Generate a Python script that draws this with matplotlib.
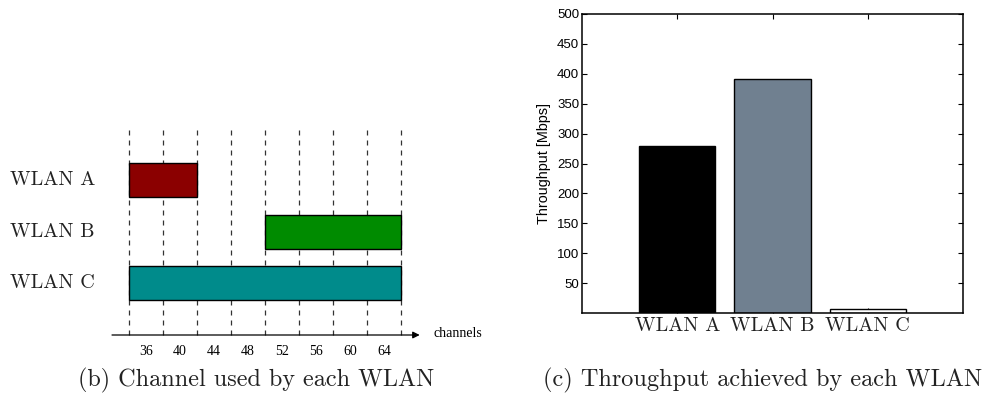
import matplotlib
matplotlib.use("Agg")
import matplotlib.pyplot as plt

# ---- data ----
channels = [36, 40, 44, 48, 52, 56, 60, 64]
wlans = ["WLAN A", "WLAN B", "WLAN C"]
wlan_first_channel = [36, 52, 36]
wlan_last_channel = [40, 64, 64]
wlan_colors = ["#8b0000", "#008b00", "#008b8b"]

throughput = [280, 392, 7]
thr_colors = ["black", "slategray", "white"]
yticks = [50, 100, 150, 200, 250, 300, 350, 400, 450, 500]

CM = "cmr10"
TIMES = "Liberation Serif"
SANS = "Liberation Sans"

W, H = 987, 399
fig = plt.figure(figsize=(W / 100, H / 100), dpi=100)

def rect(l, t, r, b):
    return [l / W, 1 - b / H, (r - l) / W, (b - t) / H]

# ---- left panel ----
axl = fig.add_axes(rect(129, 130, 401, 335))
axl.set_xlim(0, len(channels))
axl.set_ylim(0, 3.97)
axl.axis("off")
for i in range(len(channels) + 1):
    axl.axvline(i, color="#333333", lw=0.9, ls=(0, (4, 4)), zorder=1,
                clip_on=False)
for k, name in enumerate(wlans):
    ypos = len(wlans) - k
    s = channels.index(wlan_first_channel[k])
    e = channels.index(wlan_last_channel[k]) + 1
    axl.barh(ypos, e - s, left=s, height=0.66, color=wlan_colors[k],
             edgecolor="black", lw=1.0, zorder=2, clip_on=False)
    axl.text(-1.0, ypos, name, ha="right", va="center", fontsize=14.5,
             family=CM, color="#222222")
for i, ch in enumerate(channels):
    axl.text(i + 0.5, -0.32, str(ch), ha="center", va="center",
             fontsize=10, family=TIMES)
axl.annotate("", xy=(8.55, 0), xytext=(-0.5, 0),
             arrowprops=dict(arrowstyle="-|>", lw=0.9, color="black",
                             mutation_scale=10, shrinkA=0, shrinkB=0),
             annotation_clip=False)
axl.text(8.95, 0.03, "channels", ha="left", va="center", fontsize=10,
         family=TIMES)

fig.text(256 / W, 1 - 380 / H, "(b) Channel used by each WLAN", ha="center",
         va="center", fontsize=17.4, family=CM, color="#222222")

# ---- right panel ----
axr = fig.add_axes(rect(582, 14, 963, 313))
x = list(range(1, len(wlans) + 1))
axr.bar(x, throughput, width=0.8, color=thr_colors, edgecolor="black",
        lw=1.0, zorder=2)
axr.set_xlim(0, 4)
axr.set_ylim(0, 500)
axr.set_yticks(yticks)
axr.set_yticklabels([str(v) for v in yticks], family=SANS, fontsize=9.5)
axr.set_xticks(x)
axr.set_xticklabels(wlans, family=CM, fontsize=14.5, color="#222222")
axr.tick_params(direction="in", top=True, right=True, length=3.5, width=0.8,
                pad=2)
axr.tick_params(axis="x", pad=3)
for sp in axr.spines.values():
    sp.set_linewidth(1.1)
axr.set_ylabel("Throughput [Mbps]", family=SANS, fontsize=10.4, labelpad=4)

fig.text(763 / W, 1 - 380 / H, "(c) Throughput achieved by each WLAN",
         ha="center", va="center", fontsize=17.5, family=CM, color="#222222")

fig.savefig("out.png", dpi=100)
